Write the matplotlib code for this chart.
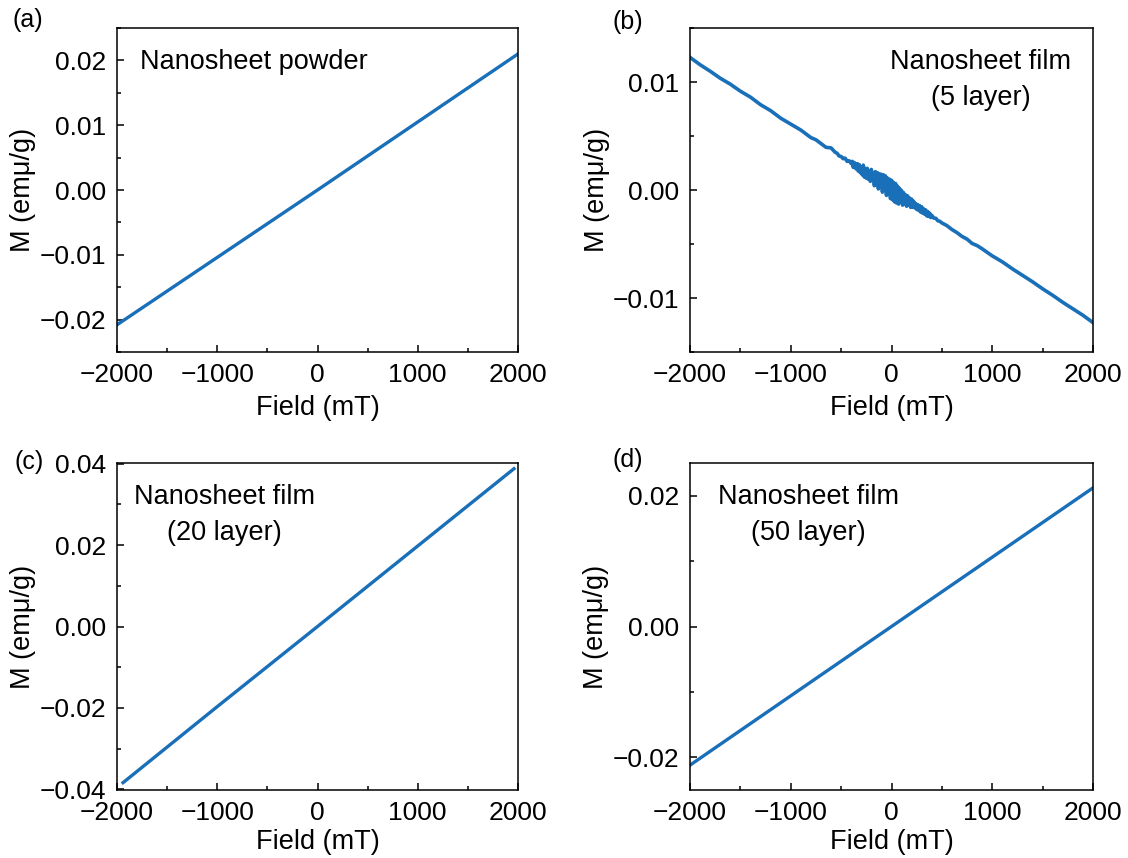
import matplotlib
matplotlib.use("Agg")
import matplotlib.pyplot as plt
from matplotlib.ticker import MultipleLocator

plt.rcParams['font.family'] = ['Liberation Sans', 'DejaVu Sans']
plt.rcParams['axes.linewidth'] = 1.1

LINE_COLOR = '#1a6fb9'

# (a) nanosheet powder
field_a = [-2000, -1000, 0, 1000, 2000]
m_a = [-0.0208, -0.0104, 0.0, 0.0105, 0.0210]

# (b) nanosheet film, 5 layer (values in 1e-3 emu/g)
field_b = ([-2000, -1900, -1800, -1700, -1600, -1500, -1400, -1300, -1200, -1100,
            -1000, -900, -800, -750, -700, -650,
            -600, -580, -560, -540, -520, -500, -480, -460, -440, -420, -400]
           + list(range(-390, 400, 10))
           + [400, 420, 440, 460, 480, 500, 550, 600, 650, 700, 750, 800, 850, 900,
              1000, 1100, 1200, 1300, 1400, 1500, 1600, 1700, 1800, 1900, 2000])
m_b_milli = ([12.28, 11.6, 11.0, 10.35, 9.8, 9.15, 8.6, 7.9, 7.35, 6.65,
              6.1, 5.55, 4.85, 4.65, 4.3, 3.95,
              3.9, 3.7, 3.5, 3.4, 3.15, 3.1, 2.9, 2.95, 2.65, 2.7, 2.45]
             + [2.65, 2.1, 2.55, 2.05, 1.95, 2.45, 1.75, 2.35, 1.6, 2.05,
                1.4, 2.3, 1.2, 2.0, 1.1, 2.0, 1.0, 1.7, 0.8, 1.9,
                0.9, 1.6, 0.4, 1.7, 0.5, 1.6, 0.1, 1.5, 0.3, 1.45,
                -0.2, 1.4, 0.0, 1.3, -0.5, 1.1, -0.4, 1.0, -0.8, 0.9,
                -0.9, 0.7, -1.1, 0.6, -1.2, 0.35, -1.3, 0.15, -1.1, -0.05,
                -1.4, -0.25, -1.3, -0.45, -1.5, -0.55, -1.4, -0.75, -1.6, -0.85,
                -1.6, -1.05, -1.65, -1.25, -1.8, -1.35, -1.9, -1.45, -2.05, -1.55,
                -2.15, -1.75, -2.25, -1.85, -2.4, -2.0, -2.45, -2.15, -2.55]
             + [-2.35, -2.6, -2.62, -2.85, -2.9, -3.05, -3.3, -3.66, -3.95, -4.3,
                -4.55, -4.95, -5.15, -5.45,
                -6.1, -6.65, -7.3, -7.9, -8.5, -9.15, -9.75, -10.4, -11.0, -11.6, -12.28])
m_b = [v / 1000 for v in m_b_milli]

# (c) nanosheet film, 20 layer
field_c = [-1940, -1000, 0, 1000, 1960]
m_c = [-0.0384, -0.0197, 0.0, 0.0198, 0.0388]

# (d) nanosheet film, 50 layer
field_d = [-2000, -1000, 0, 1000, 2000]
m_d = [-0.0212, -0.0106, 0.0, 0.0106, 0.0212]

panels = [
    ('(a)', field_a, m_a, (-0.025, 0.025), [-0.02, -0.01, 0.0, 0.01, 0.02], 0.005,
     ['\u22120.02', '\u22120.01', '0.00', '0.01', '0.02'], 'Nanosheet powder'),
    ('(b)', field_b, m_b, (-0.015, 0.015), [-0.01, 0.0, 0.01], 0.005,
     ['\u22120.01', '0.00', '0.01'], 'Nanosheet film\n(5 layer)'),
    ('(c)', field_c, m_c, (-0.0402, 0.0402), [-0.04, -0.02, 0.0, 0.02, 0.04], 0.01,
     ['\u22120.04', '\u22120.02', '0.00', '0.02', '0.04'], 'Nanosheet film\n(20 layer)'),
    ('(d)', field_d, m_d, (-0.025, 0.025), [-0.02, 0.0, 0.02], 0.01,
     ['\u22120.02', '0.00', '0.02'], 'Nanosheet film\n(50 layer)'),
]

W, H = 1128, 858
boxes = [(117, 518, 28, 352), (690, 1093, 28, 352),
         (117, 518, 463, 790), (690, 1093, 463, 790)]
label_pos = [(12, 20), (612, 22), (14, 462), (612, 460)]
note_pos = [(140, 62), (981, 62), (224, 497), (808, 497)]
FS = 19.5

fig = plt.figure(figsize=(W / 100, H / 100), dpi=100)

for i, ((tag, fx, my, ylim, yt, yminor, ytl, note), (l, r, t, b), lp, npos) in enumerate(
        zip(panels, boxes, label_pos, note_pos)):
    ax = fig.add_axes([l / W, 1 - b / H, (r - l) / W, (b - t) / H])
    ax.plot(fx, my, color=LINE_COLOR, lw=2.6 if i == 1 else 2.4,
            solid_joinstyle='round')
    ax.set_xlim(-2000, 2000)
    ax.set_ylim(*ylim)
    ax.set_xticks([-2000, -1000, 0, 1000, 2000])
    ax.set_xticklabels(['\u22122000', '\u22121000', '0', '1000', '2000'])
    ax.xaxis.set_minor_locator(MultipleLocator(500))
    ax.set_yticks(yt)
    ax.set_yticklabels(ytl)
    ax.yaxis.set_minor_locator(MultipleLocator(yminor))
    ax.tick_params(which='both', direction='in', top=False, right=False,
                   labelsize=19, width=1.1, pad=8)
    ax.tick_params(which='major', length=5)
    ax.tick_params(which='minor', length=3)
    ax.set_xlabel('Field (mT)', fontsize=FS, labelpad=6 if i < 2 else 3)
    ax.set_ylabel('M (em\u03bc/g)', fontsize=FS, labelpad=2)
    fig.text(lp[0] / W, 1 - lp[1] / H, tag, fontsize=18, ha='left', va='center')
    if '\n' not in note:
        fig.text(npos[0] / W, 1 - npos[1] / H, note, fontsize=FS, ha='left', va='center')
    else:
        first, second = note.split('\n')
        fig.text(npos[0] / W, 1 - npos[1] / H, first, fontsize=FS, ha='center', va='center')
        fig.text(npos[0] / W, 1 - (npos[1] + 36) / H, second, fontsize=FS,
                 ha='center', va='center')

fig.savefig('out.png', dpi=100)
